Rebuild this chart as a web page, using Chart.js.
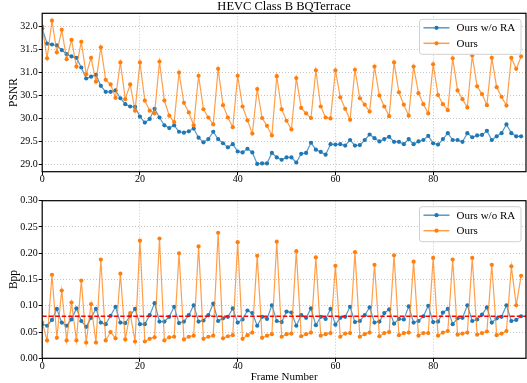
<!DOCTYPE html>
<html>
<head>
<meta charset="utf-8">
<script src="https://cdn.jsdelivr.net/npm/chart.js@4.4.1/dist/chart.umd.min.js"></script>
<style>
  html, body { margin: 0; padding: 0; background: #fff; }
  #wrap { position: relative; width: 527px; height: 383px; overflow: hidden; }
  #c1 { position: absolute; left: 0; top: 0; }
  #c2 { position: absolute; left: 0; top: 190px; }
</style>
</head>
<body>
<div id="wrap">
  <canvas id="c1" width="527" height="190"></canvas>
  <canvas id="c2" width="527" height="193"></canvas>
</div>
<script>
// ---------------- data ----------------
const chartTitle = "HEVC Class B BQTerrace";
const seriesNames = ["Ours w/o RA", "Ours"];
const frames = [0,1,2,3,4,5,6,7,8,9,10,11,12,13,14,15,16,17,18,19,20,21,22,23,24,25,26,27,28,29,30,31,32,33,34,35,36,37,38,39,40,41,42,43,44,45,46,47,48,49,50,51,52,53,54,55,56,57,58,59,60,61,62,63,64,65,66,67,68,69,70,71,72,73,74,75,76,77,78,79,80,81,82,83,84,85,86,87,88,89,90,91,92,93,94,95,96,97,98];

const psnrNoRA = [31.96,31.63,31.61,31.59,31.49,31.40,31.35,31.32,31.11,30.87,30.91,30.95,30.71,30.58,30.58,30.61,30.44,30.31,30.26,30.25,
  30.04,29.91,29.99,30.21,30.02,29.85,29.79,29.85,29.71,29.69,29.72,29.78,29.58,29.48,29.55,29.71,29.55,29.46,29.37,29.44,
  29.28,29.26,29.34,29.26,29.01,29.02,29.02,29.25,29.15,29.10,29.15,29.15,29.04,29.23,29.25,29.47,29.32,29.27,29.21,29.44,
  29.43,29.44,29.41,29.53,29.41,29.42,29.53,29.65,29.57,29.50,29.55,29.60,29.49,29.49,29.44,29.55,29.44,29.50,29.53,29.62,
  29.46,29.43,29.55,29.68,29.53,29.53,29.49,29.68,29.59,29.63,29.64,29.73,29.53,29.61,29.68,29.87,29.68,29.61,29.61];

const psnrOurs = [32.00,31.31,32.13,31.44,31.93,31.29,31.71,31.13,31.67,30.96,31.32,30.80,31.55,30.84,30.74,30.45,31.22,30.42,30.74,30.17,
  31.22,30.39,30.17,30.11,31.24,30.39,30.06,29.92,31.00,30.34,30.13,29.85,30.93,30.20,30.02,29.87,31.08,30.29,30.02,29.81,
  30.93,30.26,29.96,29.67,30.64,30.01,29.84,29.63,30.92,30.20,29.95,29.76,30.88,30.23,30.11,30.01,31.05,30.26,30.02,30.00,
  31.05,30.46,30.21,29.97,31.06,30.44,30.30,30.15,31.13,30.50,30.26,30.05,31.22,30.57,30.30,30.06,31.13,30.55,30.31,30.11,
  31.18,30.51,30.31,30.18,31.31,30.61,30.42,30.24,31.37,30.70,30.53,30.29,31.32,30.68,30.47,30.28,31.32,31.08,31.35];

const bppNoRA = [0.065,0.062,0.073,0.094,0.068,0.062,0.074,0.095,0.071,0.060,0.077,0.094,0.068,0.065,0.081,0.098,0.068,0.067,0.081,0.094,
  0.065,0.065,0.082,0.105,0.070,0.070,0.079,0.098,0.067,0.070,0.082,0.101,0.070,0.072,0.082,0.104,0.071,0.076,0.079,0.095,
  0.068,0.074,0.091,0.086,0.062,0.079,0.075,0.101,0.071,0.069,0.089,0.087,0.062,0.082,0.077,0.095,0.063,0.079,0.075,0.094,
  0.064,0.077,0.079,0.098,0.069,0.071,0.082,0.097,0.068,0.070,0.086,0.093,0.066,0.075,0.074,0.099,0.068,0.071,0.080,0.100,
  0.069,0.070,0.087,0.094,0.065,0.076,0.077,0.101,0.071,0.074,0.083,0.097,0.068,0.076,0.079,0.101,0.071,0.073,0.080];

const bppOurs = [0.068,0.034,0.159,0.039,0.129,0.034,0.106,0.034,0.148,0.030,0.103,0.030,0.188,0.034,0.050,0.038,0.161,0.036,0.086,0.032,
  0.224,0.032,0.037,0.040,0.228,0.034,0.040,0.041,0.200,0.036,0.041,0.043,0.213,0.037,0.041,0.043,0.239,0.038,0.042,0.044,
  0.221,0.037,0.044,0.049,0.195,0.039,0.043,0.046,0.222,0.041,0.046,0.047,0.204,0.042,0.046,0.049,0.192,0.043,0.046,0.048,
  0.176,0.041,0.047,0.048,0.202,0.041,0.046,0.049,0.178,0.042,0.048,0.050,0.196,0.044,0.048,0.049,0.184,0.043,0.048,0.048,
  0.191,0.043,0.049,0.052,0.188,0.045,0.047,0.049,0.191,0.045,0.048,0.051,0.178,0.044,0.047,0.052,0.175,0.101,0.157];

const targetBpp = 0.08;
const xTicks = [0, 20, 40, 60, 80];
const psnrTicks = [29.0, 29.5, 30.0, 30.5, 31.0, 31.5, 32.0];
const bppTicks = [0.00, 0.05, 0.10, 0.15, 0.20, 0.25, 0.30];

// ---------------- styling ----------------
const FONT = "'Liberation Serif', 'Times New Roman', serif";
const BLUE = '#1f77b4', ORANGE = '#ff7f0e';
const BLUE_LINE = 'rgba(31,119,180,0.75)', ORANGE_LINE = 'rgba(255,127,14,0.75)';
const GRID = '#b8b8b8';

function pts(xs, ys) { return xs.map((x, i) => ({ x: x, y: ys[i] })); }

function lineDs(label, data, lineColor, markColor, order) {
  return {
    label: label, data: data, borderColor: lineColor, backgroundColor: markColor,
    pointBackgroundColor: markColor, pointBorderColor: markColor, pointBorderWidth: 0,
    pointRadius: 2.1, borderWidth: 1.2, tension: 0, order: order
  };
}

const frameBox = {
  id: 'frameBox',
  afterDatasetsDraw(chart) {
    const a = chart.chartArea, ctx = chart.ctx;
    ctx.save();
    ctx.strokeStyle = '#000';
    ctx.lineWidth = 1.2;
    ctx.strokeRect(a.left, a.top, a.right - a.left, a.bottom - a.top);
    ctx.restore();
  }
};

const boxLegend = {
  id: 'boxLegend',
  afterDraw(chart) {
    const a = chart.chartArea, ctx = chart.ctx;
    const w = 101.5, h = 35;
    const x0 = a.right - 106.5, y0 = a.top + 6;
    ctx.save();
    ctx.beginPath();
    if (ctx.roundRect) ctx.roundRect(x0, y0, w, h, 2.5); else ctx.rect(x0, y0, w, h);
    ctx.fillStyle = 'rgba(255,255,255,0.85)';
    ctx.fill();
    ctx.strokeStyle = '#d0d0d0';
    ctx.lineWidth = 1;
    ctx.stroke();
    const items = chart.data.datasets.filter(d => d.label);
    items.forEach((d, i) => {
      const yy = y0 + 8.5 + i * 15.5;
      ctx.beginPath();
      ctx.moveTo(x0 + 4, yy); ctx.lineTo(x0 + 30, yy);
      ctx.strokeStyle = d.borderColor; ctx.lineWidth = 1.5; ctx.stroke();
      ctx.beginPath();
      ctx.arc(x0 + 17, yy, 2.1, 0, Math.PI * 2);
      ctx.fillStyle = d.pointBackgroundColor; ctx.fill();
      ctx.fillStyle = '#000';
      ctx.font = '11px ' + FONT;
      ctx.textBaseline = 'middle';
      ctx.textAlign = 'left';
      ctx.fillText(d.label, x0 + 37, yy + 0.5);
    });
    ctx.restore();
  }
};

const titlePlugin = {
  id: 'topTitle',
  afterDraw(chart) {
    const a = chart.chartArea, ctx = chart.ctx;
    ctx.save();
    ctx.fillStyle = '#000';
    ctx.font = '12.5px ' + FONT;
    ctx.textAlign = 'center';
    ctx.textBaseline = 'middle';
    ctx.fillText(chartTitle, (a.left + a.right) / 2, 6.5);
    ctx.restore();
  }
};

function xScale(axisHeight, tickPad, titleOpts) {
  return {
    type: 'linear', min: 0, max: 99,
    afterBuildTicks: s => { s.ticks = xTicks.map(v => ({ value: v })); },
    afterFit: s => { s.height = axisHeight; s.paddingLeft = 0; s.paddingRight = 0; },
    ticks: { color: '#000', font: { family: FONT, size: 10, lineHeight: 1 }, padding: tickPad, maxRotation: 0, autoSkip: false,
      callback: v => String(v) },
    grid: { color: GRID, lineWidth: 0.8, borderDash: [1, 2], drawTicks: true, tickLength: 3.5,
      tickColor: '#000', tickWidth: 1, tickBorderDash: [] },
    border: { display: false, dash: [1, 2] },
    title: titleOpts
  };
}

function yScale(min, max, ticks, digits, label) {
  return {
    type: 'linear', min: min, max: max,
    afterBuildTicks: s => { s.ticks = ticks.map(v => ({ value: v })); },
    afterFit: s => { s.width = 42.2; },
    ticks: { color: '#000', font: { family: FONT, size: 10, lineHeight: 1 }, padding: 1,
      callback: v => Number(v).toFixed(digits) },
    grid: { color: GRID, lineWidth: 0.8, borderDash: [1, 2], drawTicks: true, tickLength: 3.5,
      tickColor: '#000', tickWidth: 1, tickBorderDash: [] },
    border: { display: false, dash: [1, 2] },
    title: { display: true, text: label, color: '#000', font: { family: FONT, size: 11.5, lineHeight: 1 },
      padding: { top: 8.5, bottom: 0 } }
  };
}

const common = {
  responsive: false, animation: false, devicePixelRatio: 1,
  plugins: { legend: { display: false }, title: { display: false }, tooltip: { enabled: false } }
};

// ---------------- top chart: PSNR ----------------
new Chart(document.getElementById('c1'), {
  type: 'line',
  data: {
    datasets: [
      lineDs(seriesNames[0], pts(frames, psnrNoRA), BLUE_LINE, BLUE, 2),
      lineDs(seriesNames[1], pts(frames, psnrOurs), ORANGE_LINE, ORANGE, 1)
    ]
  },
  options: Object.assign({}, common, {
    layout: { autoPadding: false, padding: { left: 0, right: 1, top: 13.3, bottom: 0 } },
    scales: {
      x: xScale(18.3, -1, { display: false }),
      y: yScale(28.84, 32.29, psnrTicks, 1, 'PSNR')
    }
  }),
  plugins: [frameBox, boxLegend, titlePlugin]
});

// ---------------- bottom chart: Bpp ----------------
new Chart(document.getElementById('c2'), {
  type: 'line',
  data: {
    datasets: [
      lineDs(seriesNames[0], pts(frames, bppNoRA), BLUE_LINE, BLUE, 2),
      lineDs(seriesNames[1], pts(frames, bppOurs), ORANGE_LINE, ORANGE, 1),
      { label: '', data: [{ x: 0, y: targetBpp }, { x: 99, y: targetBpp }], borderColor: '#ff0000',
        borderDash: [4.5, 2], borderWidth: 1.3, pointRadius: 0, order: 0 }
    ]
  },
  options: Object.assign({}, common, {
    layout: { autoPadding: false, padding: { left: 0, right: 1, top: 10.7, bottom: 0 } },
    scales: {
      x: xScale(24.7, 0, { display: true, text: 'Frame Number', color: '#000',
        font: { family: FONT, size: 11, lineHeight: 1 }, padding: { top: 0, bottom: 0.2 } }),
      y: yScale(0, 0.30, bppTicks, 2, 'Bpp')
    }
  }),
  plugins: [frameBox, boxLegend]
});
</script>
</body>
</html>
